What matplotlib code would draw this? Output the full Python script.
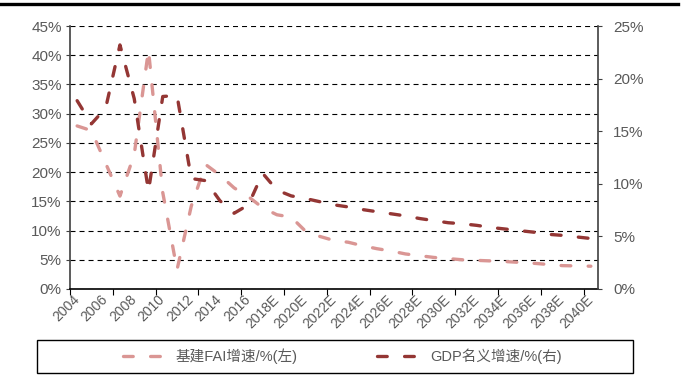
import numpy as np
import matplotlib
matplotlib.use("Agg")
import matplotlib.pyplot as plt
from matplotlib.patches import Rectangle
from matplotlib.lines import Line2D

plt.rcParams['font.family'] = ['Liberation Sans Narrow', 'Liberation Sans',
                               'Noto Sans CJK SC', 'DejaVu Sans']
plt.rcParams['lines.scale_dashes'] = False

# categories: 2004 .. 2017 actual, 2018E .. 2040E forecast
years = [str(y) for y in range(2004, 2018)] + [f"{y}E" for y in range(2018, 2041)]

# infrastructure FAI growth, % (left axis)
fai = [27.9, 27.1, 21.5, 15.9, 23.0, 40.9, 16.5, 3.3, 14.2, 21.3,
       19.5, 17.3, 15.8, 13.9, 12.7, 12.3, 9.9, 9.0, 8.3, 8.0,
       7.4, 6.9, 6.5, 6.0, 5.7, 5.4, 5.2, 5.0, 4.9, 4.8,
       4.7, 4.55, 4.4, 4.2, 4.0, 3.95, 3.9]

# nominal GDP growth, % (right axis)
gdp = [17.9, 15.7, 17.2, 23.2, 18.1, 9.3, 18.3, 18.4, 10.5, 10.3,
       8.4, 7.2, 8.0, 11.0, 9.4, 8.85, 8.6, 8.3, 8.0, 7.8,
       7.55, 7.35, 7.15, 6.95, 6.7, 6.5, 6.3, 6.2, 6.05, 5.85,
       5.7, 5.55, 5.4, 5.2, 5.1, 4.95, 4.8]

left_ticks = list(range(0, 46, 5))
right_ticks = list(range(0, 26, 5))

pink = '#DA9694'
dark = '#943634'
gray = '#595959'
dash = (0, (7, 12.5))

fig = plt.figure(figsize=(6.84, 3.85), dpi=100)
ax = fig.add_axes([70 / 684, 1 - 289 / 385, 528 / 684, 263 / 385])
x = np.arange(len(years))

l1, = ax.plot(x, fai, color=pink, lw=2.4, linestyle=dash,
              dash_capstyle='round', label='基建FAI增速/%(左)')
ax.set_xlim(-0.5, len(years) - 0.5)
ax.set_ylim(0, 45)
ax.set_yticks(left_ticks, [f"{v}%" for v in left_ticks])
ax.grid(axis='y', color='black', lw=0.8, linestyle=(0, (3.6, 2.9)))
ax.set_axisbelow(True)

# tick marks every 3 categories, labels every 2
ax.set_xticks(np.arange(-0.5, len(years), 3))
ax.set_xticks(x[::2], years[::2], minor=True)
ax.tick_params(axis='x', which='major', length=4, color='black', labelbottom=False)
ax.tick_params(axis='x', which='minor', length=0, pad=6, labelsize=10,
               labelcolor=gray, labelrotation=45)
for t in ax.get_xticklabels(minor=True):
    t.set_ha('right')
    t.set_va('center')
    t.set_rotation_mode('anchor')
ax.tick_params(axis='y', length=3, color='#404040', labelsize=11,
               labelcolor=gray, pad=3)

for s in ['top', 'right']:
    ax.spines[s].set_visible(False)
ax.spines['left'].set_color('#404040')
ax.spines['left'].set_linewidth(1.2)
ax.spines['bottom'].set_color('black')
ax.spines['bottom'].set_linewidth(1.2)

ax2 = ax.twinx()
l2, = ax2.plot(x, gdp, color=dark, lw=2.4, linestyle=dash,
               dash_capstyle='round', label='GDP名义增速/%(右)')
ax2.set_ylim(0, 25)
ax2.set_yticks(right_ticks, [f"{v}%" for v in right_ticks])
ax2.tick_params(axis='y', length=3, color='#404040', labelsize=11,
                labelcolor=gray, pad=8)
for s in ['top', 'left', 'bottom']:
    ax2.spines[s].set_visible(False)
ax2.spines['right'].set_color('#404040')
ax2.spines['right'].set_linewidth(1.2)

# top rule
fig.add_artist(Line2D([0, 678 / 684], [1 - 3.5 / 385] * 2, color='black', lw=2.4,
                      transform=fig.transFigure))

# legend box
fig.add_artist(Rectangle((37 / 684, 1 - 373 / 385), 596 / 684, 33 / 385,
                         transform=fig.transFigure, fill=False,
                         edgecolor='black', lw=1.0))
leg = fig.legend(handles=[l1, l2], loc='center', bbox_to_anchor=(0.5, 1 - 356.5 / 385),
                 ncol=2, frameon=False, fontsize=10.5, handlelength=3.0,
                 handletextpad=0.6, columnspacing=5.5)
for t in leg.get_texts():
    t.set_color(gray)

fig.savefig('out.png', dpi=100)
